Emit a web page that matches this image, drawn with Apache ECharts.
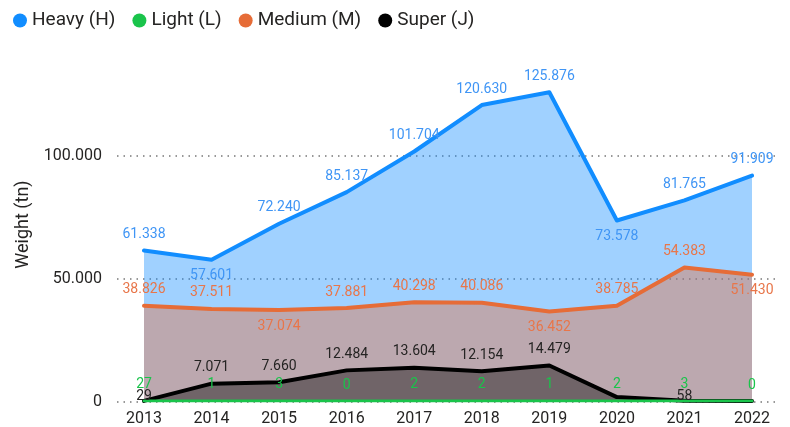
<!DOCTYPE html>
<html>
<head>
<meta charset="utf-8">
<script src="https://cdn.jsdelivr.net/npm/echarts@6/dist/echarts.min.js"></script>
<style>
  html, body { margin: 0; padding: 0; background: #fff; }
  #chart { width: 790px; height: 427px; }
</style>
</head>
<body>
<div id="chart"></div>
<script>
const years = ['2013', '2014', '2015', '2016', '2017', '2018', '2019', '2020', '2021', '2022']
const heavy = [61338, 57601, 72240, 85137, 101704, 120630, 125876, 73578, 81765, 91909]
const light = [27, 1, 3, 0, 2, 2, 1, 2, 3, 0]
const medium = [38826, 37511, 37074, 37881, 40298, 40086, 36452, 38785, 54383, 51430]
const superJ = [29, 7071, 7660, 12484, 13604, 12154, 14479, 1600, 58, 20]
const yTicks = [0, 50000, 100000]

const FONT = 'Roboto'
const TEXT = '#252423'

// 1.234 style thousands
const fmt = (v) => String(v).replace(/\B(?=(\d{3})+(?!\d))/g, '.')

const chart = echarts.init(document.getElementById('chart'))

function areaSeries(name, values, color, labelColor, width, below, hidden, tight) {
  return {
    name,
    type: 'line',
    xAxisIndex: 1,
    yAxisIndex: 1,
    data: values.map((v, i) => ({
      value: v,
      label: {
        show: !hidden.includes(i),
        position: below.includes(i) ? 'bottom' : 'top',
        distance: tight.includes(i) ? -3 : 9,
      },
    })),
    symbol: 'circle',
    symbolSize: 0,
    showSymbol: true,
    lineStyle: { color, width, join: 'round', cap: 'round' },
    itemStyle: { color },
    areaStyle: { color, opacity: 0.4 },
    label: {
      show: true,
      color: labelColor,
      fontFamily: FONT,
      fontSize: 14,
      formatter: (p) => fmt(p.value),
    },
    z: 2,
  }
}

chart.setOption({
  animation: false,
  textStyle: { fontFamily: FONT },
  legend: {
    left: 8,
    top: 6,
    itemWidth: 14,
    itemHeight: 14,
    itemGap: 17,
    icon: 'circle',
    textStyle: { fontFamily: FONT, fontSize: 19, color: TEXT },
    data: ['Heavy (H)', 'Light (L)', 'Medium (M)', 'Super (J)'],
  },
  grid: [
    { left: 117, right: 15, top: 156, bottom: 25 },
    { left: 144, right: 38, top: 48, bottom: 25 },
  ],
  xAxis: [
    { type: 'value', gridIndex: 0, show: false, min: 0, max: 1 },
    {
      type: 'category',
      gridIndex: 1,
      data: years,
      boundaryGap: false,
      axisLine: { show: false },
      axisTick: { show: false },
      axisLabel: { color: TEXT, fontFamily: FONT, fontSize: 16, margin: 10 },
    },
  ],
  yAxis: [
    {
      type: 'value',
      gridIndex: 0,
      min: yTicks[0],
      max: yTicks[yTicks.length - 1],
      interval: yTicks[1] - yTicks[0],
      axisLine: { show: false },
      axisTick: { show: false },
      axisLabel: { color: TEXT, fontFamily: FONT, fontSize: 16, margin: 15, formatter: fmt },
      splitLine: { lineStyle: { color: '#777', type: [1.5, 5], width: 1.5 } },
    },
    {
      type: 'value',
      gridIndex: 1,
      min: 0,
      max: 143900,
      axisLine: { show: false },
      axisTick: { show: false },
      axisLabel: { show: false },
      splitLine: { show: false },
      name: 'Weight (tn)',
      nameLocation: 'middle',
      nameGap: 112,
      nameTextStyle: { color: TEXT, fontFamily: FONT, fontSize: 18 },
    },
  ],
  series: [
    areaSeries('Heavy (H)', heavy, '#118DFF', '#3F95F5', 4, [1, 7], [], []),
    areaSeries('Medium (M)', medium, '#E66C37', '#E8764A', 4, [2, 6, 9], [], []),
    areaSeries('Super (J)', superJ, '#000000', TEXT, 4, [], [7, 9], [0, 8]),
    areaSeries('Light (L)', light, '#1AC44B', '#1AC44B', 3, [], [], []),
  ],
})
</script>
</body>
</html>
